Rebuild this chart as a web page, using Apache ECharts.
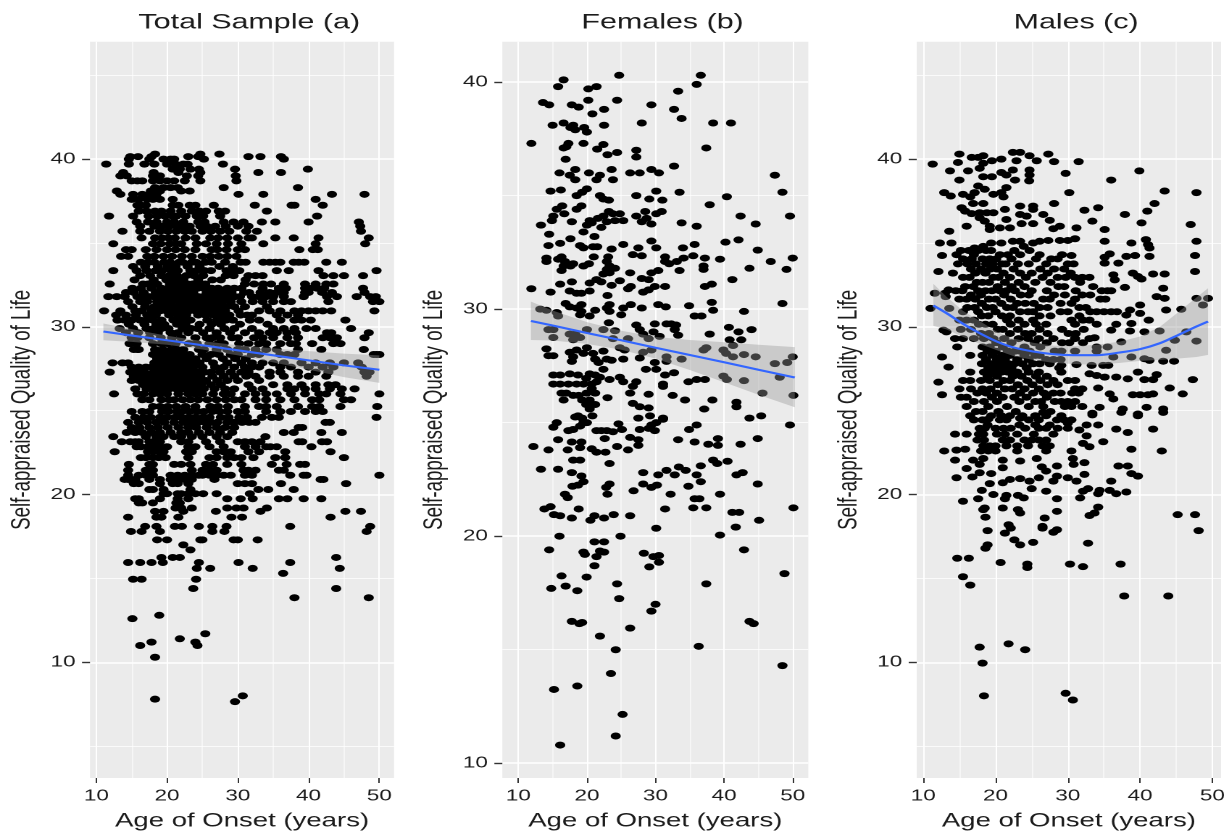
<!DOCTYPE html>
<html><head><meta charset="utf-8">
<style>html,body{margin:0;padding:0;background:#fff;overflow:hidden;width:1229px;height:831px}
#c{width:848px;height:831px;transform:scaleX(1.4493);transform-origin:0 0}</style>
<script src="https://cdn.jsdelivr.net/npm/echarts@6/dist/echarts.min.js"></script>
</head><body><div id="c"></div>
<script>
const titles = ['Total Sample (a)','Females (b)','Males (c)'];
const xName = 'Age of Onset (years)';
const yName = 'Self-appraised Quality of Life';
const xTicks = [10,20,30,40,50];
const xMinor = [15,25,35,45];
const yTicksOuter = [10,20,30,40];
const yMinorOuter = [5,15,25,35,45];
const yTicksFemale = [10,20,30,40];
const yMinorFemale = [15,25,35];

// rows: [y, x1, x2, ...]
const totalRows = [
[40.3,18.3,24.7,27.4],[40.15,14.8,15.9,17.8,23,24.4,31.5,33.2,36.1],[40,14.6,17.5,19.5,20.5,21,25.2,36.5],
[39.7,11.4,14.6,16.8,18.2,20,21.2,22.3,27.9,22.9],[39.4,20.8,21.8,23.3,24.5,29.6,39.9],[39.2,13.8,18.1,21.6,24.7,32.9,36.1],
[39,13.4,14.3,18,19,22.8,24.4,29.7],[38.7,15,15.8,16.5,18,19,20,21,22.5,24.7,29.8],[38.3,18.3,19.5,20.5,21.5,28,38.5],
[38.1,12.9,17.7,19,22,23.2],[37.9,13.4,15.2,16.5,17.5,18.5,30.1,33.6,43.3,47.9],[37.6,15,16,17.2,18,19,20.8,41],
[37.25,15.8,16.3,17,20.8,21.6,23.2,24,26.6,32.4,37.6,38,42],[36.9,16,17.1,18.3,19.2,20.5,22,23.5,24.6,25.5,27.3,28.2,34.1],
[36.6,11.8,15.2,17.4,18.6,19.7,20.8,21.3,22.6,24.2,25.1,27.5,41.2],[36.25,15.7,17.3,18.5,20,21,22.3,24.4,25.3,28,29.4,30.8,33.4,35.3,40,47.1],
[36,16.2,18.2,19.2,20.3,21.4,22.1,23.2,24.7,25.6,26.8,28.3,30,31.5,47.3],[35.7,13.7,16.2,17.5,19,20.1,21.3,22.5,23.5,25,26.2,27.5,28.8,31.2,32.7,47.4],
[35.3,16.4,18.3,19.3,20.2,21.1,22.6,24,26.1,27.2,28.5,30,31.5,32,35.3,37.9,41.4,48.5],[34.95,12.4,18,19.1,20.4,21.3,22,24.2,25.5,27,28.6,30.5,33.6,41,48],
[34.6,14.2,15,17,18.5,20,21.2,22.5,24,26.3,27.1,28.4,30,31,38.7,40.6,41.3],[34.2,13.5,14.5,17.2,18.2,19.5,20.7,22.1,23.5,25,26.1,27.3,28.5,29.8],
[33.85,16.3,17.4,18.2,19.6,20.4,21.7,22.2,23.5,24.1,25.4,26.3,28.2,30.4,31.1,33.6,34.5,35.3,36,37.9,38.6,39.4,42.5,44.7],
[33.6,15.2,16.9,18.7,20.1,21.2,22.9,24.6,27.4,29.3],
[33.35,12.4,15.7,17.1,18.4,19.3,20.6,21.5,23.3,24.2,25.3,26.2,28.4,29.1,30.2,35.5,37.2,41.4,49.6],
[33.05,16.2,17.6,19.2,20.3,21.4,22.7,23.8,25.1,28.3,29.4,31.5,32.5,33.5,42.1,43.5,45,47.7],
[32.8,15.4,18.1,19.9,21.1,22.3,24.4,26.4,27.6,31.1],
[32.55,11.9,16.6,17.3,18.6,20.4,21.6,22.9,23.6,24.7,25.4,31,32.3,33.6,34.7,36.5,39.5,41,42.5,43.5],
[32.3,15.1,16.3,17.8,19.2,20.1,21.3,22.2,23.3,24.3,25.2,26.3,27.2,28.5,29.5,30.5,33.5,35.8,36.8,39.5,40.2,41.2,42.2,47.7],
[32.05,14.2,15.3,16.7,18.4,19.6,20.8,21.7,22.8,23.7,25.6,26.8,27.9,29.1,30.9,31.6,33.2,34.5,35.5,36.5,39.5,40,41.9,43.3,47.9],
[31.8,11.7,12.9,14,15.8,16.4,17.5,18.1,19.3,20.3,21.1,22.3,23.2,24.4,25.1,26.2,27.3,28.4,29.6,30.3,32,33,34,35,36.5,39.3,42.6,44,46.8,48.7,49.5],
[31.5,14.5,16.2,17.2,18.6,19.7,20.6,21.8,22.7,23.8,24.8,25.7,26.9,27.8,29,30.5,32.1,33.5,35,36.5,37.5,42.8,49.1,50],
[31.2,15.1,16.9,18.2,19.3,20.4,21.3,22.4,23.3,24.3,25.3,26.3,27.4,28.4,29.5,31,34.1],
[30.95,11.1,13.4,15.5,16.4,17.8,19,19.9,21,22,23.1,24,25,26,27,28.2,30.1,33,34.5,36,38,39,40,41,42,43.2,49.3],
[30.7,12.8,14.2,15.6,17.2,18.4,20.3,21.5,22.7,24.4,25.4,26.6,27.7,28.8,30.4,31.3,32,35.5,37,38.5],
[30.4,13,14,15,16.2,17,18,19.2,20.9,22.1,23.3,25.7,27.1,28.3,29.3,31.7,33,36,38,39,40.3,45.2],
[30.15,14.6,16.8,18.5,19.6,21.4,22.6,24.6,26.3,27.6,30.3,34.2],
[29.9,13.3,15.2,17.1,18.1,19.2,20.2,22.2,23.4,24.3,26,28.1,29.5,32,35,36.5,38,39.7,41,46],
[29.65,14.2,15.9,17.6,18.7,20.5,21.5,23,25.1,27,28.9,31,33,34.5,35.5,37,38.2,42.6,43.2,48.5],
[29.35,15,15.8,17.5,19.1,20.7,22,24,25.6,26.4,27.5,29.2,30,32.3,33.5,35,37,38.5,42,43,44,47.9],
[29,14.7,15.7,18,19.2,20.1,21.2,23.1,24.2,26,27.2,28,30.2,31.5,33,34,36,37.5,38.2,40.5,43.5,44.5],
[28.65,15.3,15.8,16,18.3,19.4,20.6,21.4,22.3,24.5,25.2,27,28.5,30,31,32.5,34,35.5,38.5,41.8,47.8],
[28.35,18,19.1,20,21,22.1,23.2,25,26.2,27.3,29,30,32,33,36,37,38,49.2,50,49.6],
[28.1,18.6,19.7,20.6,21.7,22.8,24,25.6,27.9,29.6,31.1],
[27.85,12.3,13.7,14.5,18.2,19,20.2,21.2,22.2,23.4,24.6,26.5,28.5,30.5,32,33.5,35,36.5,39,41,43,45,47],
[27.6,15,16,17,17.8,18.8,19.6,20.7,21.6,22.6,23.7,25,26.8,28,29.5,31,32,33,36,37.5,40,42,43.5,47.5],
[27.3,11.9,14.8,15.8,16.8,18.1,19.2,20.1,21.1,22.1,23.1,24.2,25.3,26.2,27.5,29,30.5,31.5,34.5,36,38.5,41,42.8,47.9,48.6],
[27.05,15.3,16.3,17.4,18.6,19.6,20.6,21.6,22.6,23.6,24.7,26.4,28,29.5,31.2,32.5,34.5,36.5,38.5,40,42.5,48.2],
[26.8,15,16,17,18,19,20.1,21.2,22.1,23.1,24.2,25.5,27.1,28.5,30,33],
[26.55,16.6,17.6,18.7,19.7,20.8,21.7,22.7,23.7,24.8,26.2,27.6,31.5,35,37,39,41,42.8,43.8],
[26.3,15.5,17.1,18.2,19.2,20.3,21.3,22.3,23.4,24.3,25.2,26.7,28.2,29.5,32,33.5,37,38,39.5,41,43,44.7,46.5],
[26,12.5,15.8,16.7,18,19,20,21.6,23,24,25,26.5,28,29,31,32.5,34,35.5,37.5,39.5,41.5,42.5,44.5,50],
[25.65,16.5,17.5,19.2,20.3,21,22.2,23.3,24.4,25.7,27,28.3,29.5,30.5,32.5,34,36,38,40.5,41.5,45,46],
[25.25,18,19,20.1,21.3,22.6,24,26.1,27.2,28.6,31,33,34,35.5,38.5,40.5,41.5,44.5,49.7],
[24.95,15,16.5,17.5,19.3,20.2,21.4,22.1,23.2,24.3,25.2,26.4,27.4,28.5,30,31,34,36,37.5,39.5,41,42],
[24.6,15.5,16.7,17.7,19,20,21.1,22,23,24,25.1,26,27.6,28.7,30.2,31.3,33.4,34.8,35.8,49.6],
[24.3,14.5,16,17.2,18.5,19.6,21,22.3,23.4,24.4,25.4,26.2,27.1,28.5,29.5,30.6,31.6,32.5,42.4,43],
[24,15,16.1,17.5,18.7,20.1,21.6,23,24.1,25.6,27,28.2,29.5,39.1,38.6],[23.7,14.3,15.5,16.5,17.8,19,20.5,22,23,24.5,26,27.5,29.2,36.5,37.9,41.8,44.7],
[23.45,12.4,17,18.5,19.5,21,22,23.5,25,27,28.5,33.9],[23.15,13.6,14.8,15.5,16,17.5,18,19,22,23,25.5,27.5,30,31,32,33.2,38.6,39.1,41.9,42.6],
[22.85,15.7,16.3,17.3,18,19,20,23,24,26,28,31,32.5,34,34.6,35.5,40.4],[22.55,12.6,17.3,18,19,19.5,22.7,23.5,27,28,29,31.5,33,36.7,43.1],
[22.2,16.3,17,18,18.8,19.8,23,26,27,28.5,29.5,30.5,32.2,35.3,36.7,45],[21.8,14.6,17.5,18,21,22,23.3,25.5,26.5,28.5,30.5,34.8,36.9,38.8,39.5],
[21.45,14.5,17,18,23.5,25,26,27,30.8,31.5,32.5,35.8,36.5],[21.15,14.5,16,17,18,20.5,21.5,22.5,23.5,24.5,25,26,27,28,29,31,32,37.4,39.3,39.7,50],
[20.9,14,14.5,15,15.5,17.5,19,20.5,21.5,22.5,23.5,26.7,41.7,42.1],[20.65,15.3,16,19,20.8,21.5,23,30,31,32,36.1,45.3],
[20.3,17.5,18,19.5,23.3,32.9,34.3,37.9],[20.05,19.5,20,21.5,22,23,24,25.1,27,31.7],[19.75,15.5,16,19,21.5,23,28.5,30.4,32.1,35.8,37,39.3,41.8],
[19.5,16,16.5,18,21.3,21.8],[19.2,21.2,22,23.5,28.5,29.8,30.8,34.1],[19,18.3,19.5,22.3,26.9,33.2,45.2,47.4],[18.65,14.5,18.5,19.2,21.6,29.1,30.6,43.1],
[18.1,16.9,21.1,22.1,24.5,28.4,37.4,18.5,26.4,48.7],[17.8,14.9,16.4,19,26.4,28.1,48.2],[17.3,18.6,20,25,24.7,29.4,30,32.8],[17,22.3],[16.7,23.3],
[16.25,19.2,20.8,21.8,43.9],[15.95,14.5,16.2,17.8,19.4,24.5,30.1,37.4],[15.6,24.2,26.1,32.1,44.4],[15.3,36.4],[14.95,15.2,16.4,24.1],[14.4,23.7,43.9],[13.85,38,48.5],
[12.8,18.9],[12.6,15.1],[11.7,25.4],[11.4,21.8],[11.2,17.8,24],[11,16.2,24.3],[10.3,18.3],[8,30.7],[7.8,18.3],[7.65,29.6]
];

const femalePoints = [
[16.6,40.1],[15.8,39.8],[20.2,39.7],[21.4,39.8],[24.7,40.3],[36,39.9],[36.6,40.3],[33.3,39.6],[13.6,39.1],[14.5,39],[17.8,39],[18.8,38.9],[20.2,39.2],[22.5,38.8],[24.4,39.2],[29.4,39],[32.7,38.8],[20.8,38.6],[33.8,38.4],
[15,38.1],[16.6,38.2],[18,38.1],[17.6,38],[18.3,37.9],[19.6,38],[20,37.8],[22.5,38.1],[28,38.2],[38.4,38.2],[41,38.2],[11.9,37.3],[17.3,37.3],[16.6,37.1],[17,37.15],[19.5,37.3],[21.5,37.05],[22.4,37.25],[24.4,36.9],[23,36.8],[27.2,37],[27.2,36.7],[37.4,37.1],[16.9,36.6],
[16,36],[18.3,36.15],[17.5,35.9],[18.3,35.7],[20.3,36],[21.9,35.9],[21.4,35.7],[23.6,36.15],[23.8,35.7],[26.3,36],[27.7,36],[29.4,36.15],[30.5,36],[32.7,36.3],[47.4,35.9],
[14.7,35.2],[16.2,35.25],[18.5,35],[19.3,35.15],[20,35.3],[21.9,35],[22.4,34.85],[23.2,34.8],[27.2,35],[30.1,35.2],[29.1,34.85],[31,34.8],[33.5,35.15],[48.5,35.15],[40.4,34.95],[37.9,34.6],
[16.4,34.55],[15.6,34.4],[15.1,34.1],[14.9,33.9],[13.3,33.7],[16.7,34.2],[18.5,34.4],[19.2,34.55],[17.8,33.85],[23.2,34.3],[23.8,34.2],[22.4,34.1],[21.6,34],[24.8,34.2],[25.3,33.9],[24.1,33.9],[22.9,33.85],[22.1,33.6],[20.4,33.9],[20,33.7],[19.5,33.4],[20.7,33.8],[27.2,34.1],[28.5,34.3],[28.7,34],[28,33.85],[29.4,33.75],[30.1,34.2],[30.9,34.3],[33.8,33.8],[36,33.65],[42.4,34.1],[44.6,33.75],[49.6,34.1],
[14.5,33.3],[21.1,33.2],[14.4,32.8],[16.1,32.9],[17.6,33.1],[19,32.8],[19.5,32.7],[20.9,32.75],[21.5,32.75],[23.6,32.65],[25.3,32.85],[27.5,32.7],[29.4,33],[30.1,32.7],[34,32.7],[35.7,32.85],[40.2,32.95],[42.1,33.05],[44.9,32.6],[46.8,32.1],[50,32.25],
[14.1,32.25],[14.1,32.1],[16.3,32.3],[15.8,32.2],[16.8,32.1],[18,32],[16.6,31.9],[17.6,31.9],[16.3,31.7],[21,32.3],[20.3,32],[19.5,31.9],[23.1,32.3],[22.9,32.1],[26.7,32.4],[28,32.35],[31.4,32.3],[31.4,32.1],[32,32],[33.1,32.1],[34.1,32.25],[35.5,32.35],[37.2,32.25],[39.4,32.2],[37,31.9],[37,31.75],[33.5,31.7],[43.7,31.8],[49.1,31.75],
[23.3,31.9],[22.9,31.75],[24.1,31.8],[22.4,31.55],[23.3,31.6],[26.3,31.6],[30.4,31.7],[29.4,31.6],[28,31.35],[29,31.3],[22.1,31.2],[21.4,31.3],[20.4,31.15],[24.8,31.25],[23.6,31.05],[17.8,31.2],[16.1,31.1],[11.9,30.9],[14.7,30.75],[17.5,30.8],[18.5,30.7],[19.2,30.7],[20.4,30.8],[26.4,31],[26,30.9],[31.4,31],[29.9,31],[29,30.85],[28.2,30.75],[38.2,31.1],[37.2,31],[41.2,31.3],[23,30.6],
[16.9,30.25],[17.5,30.1],[19.2,30.2],[18.5,30.05],[19.2,29.9],[23.3,30.2],[22.9,30.05],[23.3,29.9],[21.2,29.95],[26.4,30.2],[25.3,30.05],[25,29.75],[28,30.05],[30.4,30.2],[31.5,30.1],[34.9,30.15],[38.2,30.3],[38.4,29.95],[42.9,29.9],[48.5,30.25],[35.7,29.7],[36.7,29.7],[13.2,30],[14.1,29.95],[15.6,29.85],[15.8,29.7],[19,29.75],[20.4,29.7],
[23.2,29.4],[22.4,29.1],[24.1,29.05],[27.2,29.3],[27.7,29.1],[28.2,28.9],[29,28.7],[29.9,29.35],[29.7,29],[31.6,29.35],[32.3,29.35],[33,29.3],[32.8,29.1],[33.3,28.85],[30.6,28.8],[37.9,28.9],[40.7,29.2],[42.1,29],[44,29.1],[40.8,28.65],[42.5,28.65],[41.3,28.4],
[15.1,29.1],[14.4,29.1],[15.1,28.75],[17.5,28.9],[18.3,28.9],[18,28.65],[19,28.75],[20,29.1],[23.8,28.7],[26,28.7],[24.8,28.3],[25.5,28.2],[28.2,28.1],[29.4,28.2],[37,28.2],[37.4,28.3],[39.9,28.2],[40.3,28.05],[41.3,27.9],[42.9,28],[44.6,27.9],[50,27.9],[47.4,27.6],[49.2,27.65],[33.8,27.8],[31.6,27.9],[31.6,27.7],
[14.1,28.25],[14.4,27.95],[15.1,27.95],[17.5,28.1],[18.5,28.2],[18,27.9],[17.8,27.7],[20,28.3],[19.5,28.05],[20.9,28.05],[21.2,27.8],[21.7,27.65],[22.4,28.15],[22.9,27.8],[23.6,27.75],[25.3,27.8],[27.7,27.85],[29.9,27.65],[28.6,27.35],[30.1,27.35],[32.7,27.2],[31.4,27.1],[22.4,27.35],
[15.1,27.1],[16.1,27.1],[17.5,27.15],[18.7,27.1],[20.4,27.15],[21.2,27.1],[21.9,27],[19.9,26.95],[15.1,26.7],[16.1,26.7],[17.3,26.7],[18.5,26.7],[19.5,26.7],[20.7,26.7],[21.4,26.8],[23.3,26.9],[24.8,27],[25.3,26.8],[27.2,26.8],[26.7,26.6],[34.8,26.8],[36,26.9],[37.2,26.9],[39.9,27.05],[40.4,26.9],[42.9,26.85],[48.1,27],[31.1,26.7],[31.1,26.6],
[20.7,26.5],[19.95,26.3],[21.2,26.3],[16.3,26.3],[17,26.3],[18,26.2],[18.8,26.2],[23,26.1],[26.3,26.3],[29,26.25],[32.5,26.2],[45.6,26.3],[50.1,26.2],[16.6,26],[19.3,26],[20.4,26],[34.3,26],[38.3,26],[19.9,25.8],[21.2,25.8],[26.7,25.85],[27.7,25.7],[29,25.65],[41.8,25.9],[41.8,25.7],[37.1,25.6],[20.4,25.6],
[18.7,25.3],[20.8,25.3],[27.5,25.2],[29.2,25.3],[31.1,25.2],[43.7,25.2],[45.4,25.3],[18.3,25.25],[19.3,25.2],[19.5,25],[20,25],[15.6,25],[15.1,24.8],[18,24.7],[17.3,24.65],[19,24.85],[24.6,24.95],[25.1,24.7],[23.8,24.6],[21.4,24.65],[22.1,24.65],[22.9,24.65],[31.1,25.15],[30.1,25],[29.4,24.9],[29,24.75],[27.7,24.7],[29.9,24.65],[36,24.9],[34.9,24.7],[49.6,24.9],
[15.8,24.25],[22.6,24.3],[26.3,24.35],[27.5,24.25],[33.3,24.25],[17.8,24.15],[19.2,24.15],[19,23.9],[35.7,24.15],[37.7,24.05],[39.1,24.3],[39.1,24],[42.4,24.05],[44.9,24.3],[27.5,24],[24.4,23.95],[12.2,23.95],[14.4,23.8],[17.2,23.8],[20.7,23.85],[21.4,23.7],[22.7,23.7],[26,23.8],
[18,23.35],[19,23.35],[23.3,23.2],[38.4,23.35],[39,23.2],[40.5,23.3],[13.3,22.95],[15.8,22.95],[17.8,22.8],[19.2,22.65],[28.2,22.8],[30.4,22.7],[31.6,22.9],[33.4,23.05],[34.4,22.9],[32.8,22.7],[36,22.7],[36.6,23.1],[41.8,22.7],[42.7,22.8],
[19.5,22.4],[18.7,22.25],[17.9,22.2],[23.3,22.3],[22.8,22.15],[28.2,22.3],[29.4,22.15],[30.2,22.25],[34.8,22.2],[36.6,22.4],[44.9,22.3],[23,21.85],[16.8,21.85],[17.2,21.7],[26.8,22],[32.2,21.85],[39.4,21.85],[35.7,21.65],[36.4,21.65],
[13.8,21.2],[14.7,21.3],[18.8,21.2],[31.4,21.2],[35.5,21.25],[37.4,21.25],[50.1,21.25],[41.2,21.05],[42.2,21.05],[15.2,20.95],[16.1,20.9],[17.8,20.8],[21.1,20.9],[20.5,20.7],[22.5,20.8],[23.9,20.95],[26.3,20.9],[30.1,20.35],[41.7,20.4],[45.1,20.7],[16,20],[24.9,20],[39.4,20.05],
[21.1,19.75],[22.5,19.75],[14.5,19.4],[19.5,19.3],[19.7,19.2],[21.9,19.35],[22.5,19.3],[21.4,19.1],[28.3,19.25],[42.9,19.4],[29.7,19.1],[30.5,19.15],[30.5,18.85],[29.1,18.65],[21.1,18.7],[16.3,18.25],[19.96,18.2],[14.8,17.7],[16.9,17.8],[18.6,17.6],[24.4,17.9],[37.4,17.9],[48.8,18.35],
[24.7,17.25],[30,17],[29.4,16.7],[17.8,16.25],[18.9,16.15],[19.3,16.2],[26.3,15.95],[21.9,15.6],[43.7,16.25],[44.3,16.15],[24.2,15],[36.3,15.15],[23.5,13.95],[48.5,14.3],[15.2,13.25],[18.6,13.4],[25.2,12.15],[24.2,11.2],[16.1,10.8]
];

const malePoints = [
[15,40.3],[23.4,40.4],[22.4,40.4],[27.3,40.3],[16.7,40.1],[18.3,40.2],[17.6,40.1],[24.7,40.2],[11.3,39.7],[14.8,39.8],[22.9,39.9],[25.7,39.9],[28.1,39.85],[31.5,39.85],[18.3,39.75],[19.5,39.9],[20.8,40],[13.7,39.3],[16.2,39.3],[17.8,39.45],[20.8,39.2],[22.4,39.35],[24.7,39.35],[29.7,39.15],[39.9,39.3],[15,38.75],[18.3,38.95],[19.5,38.95],[21.5,39.05],[22.7,38.75],[24.7,39.05],[24.65,38.7],[36,38.75],[17.6,38.4],[21.5,38.3],[18.5,38.2],[12.9,38],[13.8,37.8],[15.5,37.9],[17.1,38],[19.7,37.9],[20.8,38],[21.1,37.75],[16.5,37.75],[30.2,38],[43.4,38.1],[47.8,38],[42,37.35],[16.9,37.35],[18.3,37.35],[28.1,37.35],[23.4,37.2],[25.2,37.2],[32.3,36.95],[34.2,37.1],[15.3,37.1],[15.8,36.9],[16.7,36.75],[17.8,36.8],[18.8,36.8],[19.7,36.8],[21.3,37],[23.4,36.7],[24.3,36.6],[25.2,37],[26.6,36.7],[37.9,36.7],[41,36.9],[17.8,36.5],[18.5,36.3],[21.5,36.4],[23.6,36.15],[25.2,36.15],[27.5,36.35],[33.4,36.3],[40.2,36.2],[47,36.1],[16,36],[19.2,36],[20.6,35.9],[22,35.9],[19.2,35.8],[28.9,36],[28,35.85],[31.2,35.9],[35.1,35.8],[13.6,35.7],
[12.3,35],[13.9,35],[19.4,35],[20.8,35],[22.4,35.1],[23.4,35.1],[25.2,35],[26.1,35.1],[27.3,35.15],[28.9,35.15],[30,35.15],[31,35.25],[35.1,35.1],[38.8,35],[40.8,35.2],[47.8,35.1],[41.1,34.9],[41.3,34.7],[18.3,34.8],[17.1,34.7],[23.9,34.8],
[12.6,34.25],[14.6,34.3],[30.5,34.25],[38.1,34.2],[39.3,34.25],[41.3,34.2],[47.6,34.25],[35.1,34.15],[35.8,34.35],[35.1,33.8],[37,33.8],[14.8,33.75],[12.1,33.3],[14.1,33.2],[47.6,33.3],[41.8,33.15],[43.4,33.15],[39,33.2],[39.7,33],[40.2,32.85],[36.3,33.1],[36.5,32.8],[43.2,32.3],[37.9,32.35],[42.3,31.8],[43.4,31.7],[47.8,31.7],[49.4,31.7],[48.7,31.3],[45.7,31.05],[43.6,31],[40,31.3],[38.6,31],[38.1,30.7],[40,30.8],[11,31.1],[11.6,32],[13,32],[13.5,32.2],[13.1,31.8],[13.6,31.1],[41.2,30.4],[38.8,30.2],[36.7,30.15],[36,29.8],[38.6,29.75],[40.6,29.7],[42.7,29.75],[46.4,29.7],[33.7,29.35],[37.4,29.1],[44.8,29.2],[47.8,29.15],[43.6,28.6],[12.8,29.8],[13.2,29.7],[14.4,29.3],[15.5,29.3],[14.7,28.8],[16.5,28.3],[12.6,28.2],[13.5,27.6],[12.1,26.7],[12.6,25.95],
[44.7,27.95],[43.2,27.95],[41.3,28],[40.6,28.1],[38.8,28.2],[36.3,28.2],[39.7,27.3],[42.3,27.15],[40.6,26.85],[41.8,26.85],[47.3,26.85],[38.3,26.9],[36.7,27],[35.1,27],[33,27.2],[34,27.1],[33.3,27.7],[31.2,27.75],[34.9,27.7],[35.6,27.7],[29.1,27.7],[29.1,27.3],[44.1,26.35],[45.9,26],[39,25.95],[40,25.95],[41.1,25.95],[41.8,26],[35.8,26],[36.3,25.7],[34.2,26.35],[43.2,25.1],[40.9,25.2],[39.7,24.8],[37.6,25.1],[34.4,25.2],[33.4,24.85],
[43.2,24.9],[39.7,24.7],[37.4,24.9],[33.4,24.75],[29.1,24.7],[26.6,24.9],[23.4,24.55],[20.8,24.7],[19,24.5],[16.5,24.7],[34.2,24.15],[32.6,24.15],[36.7,23.9],[41.8,23.9],[38.3,23.7],[31.6,23.85],[32.6,23.5],[30,24.25],[34.9,23.15],[32.1,23.05],[33,22.85],[38.8,22.7],[43,22.6],[14.4,23.6],[16,23.6],[12.9,22.6],[14.6,22.65],[15.8,22.7],[14.4,22.05],[16.9,22.05],[18.3,22.15],[17.8,21.8],[16,21.55],[14.6,21],[16.8,21.05],[17.8,21.3],[19.4,21.25],[21,22.05],[21,21.6],[23.4,22],[25.7,22.15],[26.4,21.65],[27,21.4],[28.5,21.7],[30.7,22.15],[30.8,21.8],[32.3,21.9],[37,21.7],[38.3,21.7],[38.8,21.25],[39.7,21.1],[32.3,21.2],[36,20.8],[28,20.8],[28.5,21.1],[30,21],[31.2,20.8],[23.4,20.95],[22,20.9],[21,20.7],[19.2,20.65],[24.7,20.8],[26,21],[25,20.35],[27,20.2],[18.1,20.25],[19.7,20],[21.5,19.95],[21.3,19.75],[23.1,19.95],[23.9,19.8],[17.6,19.75],[15.5,19.6],[28.5,19.75],[31.7,19.8],[32.1,20.2],[32.8,20.35],[34.2,20.05],[34.4,20.25],[35.8,20.25],[36.7,20.05],[38.1,20.15],
[18.5,19.2],[18.3,19.1],[21,19.2],[23.1,19.1],[23.4,18.9],[28.5,19],[34.2,19.25],[33.7,18.9],[33,18.75],[26.8,18.6],[18.6,18.65],[45.2,18.8],[47.6,18.8],[48.1,17.85],[21.8,18.2],[22.1,18],[21.3,17.7],[26.5,18.1],[26.5,18],[28.5,17.9],[28,17.75],[18.9,17.85],[18.9,17],[18.6,16.8],[22.6,17.3],[23.4,17],[25.2,17.15],[32.8,17.1],[14.7,16.2],[16.3,16.2],[20.7,15.95],[24.4,15.85],[24.4,15.65],[30.3,15.85],[32.1,15.7],[37.3,15.85],[15.5,15.1],[16.5,14.6],[37.8,13.95],[43.9,13.95],[17.8,10.9],[18.2,9.95],[21.8,11.1],[24.1,10.75],[18.4,8],[29.7,8.15],[30.7,7.75]
];
// dense part of the male panel, by row: [y, x1, x2, ...]
const maleRows = [
[34.55,15.2,16.3,17.6,18.7,19.4,22.6,24.7],[34.3,17,20.6,21.7,23.4,26.1,29.2],[34.05,15.5,16.7,18.2,19.2,20.1,22.2,25.6,27.7,28.6],
[33.75,16.1,17.3,18.7,19.6,20.9,21.4,23.1,24.6,27,30,30.8],[33.45,16.6,18,19.3,20.2,22.5,26.2,28.1,29.5],[33.2,17.2,18.6,21.1,23.4,25,27.2,30.4],
[32.95,15.5,16.4,19.7,20.4,22,24.2,26.5,28.6,29.7,31,32,33],[32.65,17.4,18.2,19.1,21.3,23.2,25.5,27.6,31.7],[32.4,15.8,16.9,20.3,22.2,24,28.7,29.5,33.5],
[32.15,14.5,15.4,17.6,18.6,19.5,20.6,21.5,22.7,25,27.1,31.1,34.7,35.5,36],[31.9,16.6,18,21.2,23.5,24.6,28.1,29.6,32,33.1],
[31.65,15,16,17.2,19.1,20,22.1,26.6,27.5,31,34.5,35.2],[31.4,18.1,20.8,23,24.1,25.3,29,30.5],[31.15,16.1,17.1,18.8,19.6,21.6,22.4,26.1,27.2,31.6,32.5],
[30.9,15.5,17.6,20,23.4,24.5,25.2,29,30,33.1,34,35,36,36.8],[30.65,18.1,19,20.9,22,26.1,27.6,31.6],[30.4,15,16,17,21.6,23.2,25.2,30.5,32.1,33],
[30.15,17.7,18.6,19.6,22.1,24,25.6,27,31,34],[29.85,15.2,16.6,20.3,21,23.1,26.1,29.2,32.2],[29.6,18,19.1,22,24.1,25,27.2,30.1,31.1],
[29.3,17,18.4,19.7,21.2,23.2,24.5,26,28,31,33],[29.05,20.1,22.2,25.4,27.1,29.2,30.2,32.1],[28.8,18.2,19.2,21,24,26.2,34,35.5],
[28.55,18.9,20,21.7,22.7,23.4,24.7,28.2,29.1,31,34],[28.3,18.2,19.6,20.9,22,24,25.5,26.1],[28.05,18.7,20.2,21.3,23,24.6,27,28,29],
[27.8,18.1,19.4,20.6,21.8,22.6,23.7,25.2,26.1,27.5],[27.55,19,20.1,21.2,22.2,24.3,28.8],[27.3,16.5,18.4,19.7,20.8,21.7,23,24.6,26],
[27.05,18.9,20.2,22.4,23.6,25.6,27.1],[26.8,15.5,16.5,18,19.2,21.1,22,24.4,26.2,28,30,31],[26.55,20.3,23.1,25.1,27.2,28.6],
[26.3,15,16.6,18.2,19.3,21.3,22.3,24,26,31,32],[26.05,17.5,18.7,20.2,23.4,25.2,26.7,28,29,30.6,31.5],[25.8,15.2,16,19.5,21,22.6,24.3,27.1],
[25.55,17,18.4,20.2,23.3,25.5,26.3,28.2,29.1,30,31],[25.25,16,19,21.6,24.6,26.6,29.6,30.5,32],[24.95,17.3,18.2,20.4,22.8,27.6],
[24.7,19.4,22,23.7,25.5,27],[24.45,17,18.2,20.6,21.5,24.6,26,28.5,29.5,30.5],[24.15,18.9,23.3,25.5,27.5],
[23.95,17.8,18.5,20,21.1,22.1,24.1,26,27,28.6,30],[23.6,17.7,18.3,20.2,21.3,23,25.3,28],[23.25,17.5,18.4,21,22,24,25,26,27],
[22.9,18.3,19.2,20,21.5,23,24.5,26.5,27.5],[22.6,18,19,20,23,27,30.5]
];

// smoothed fits: [x, lower, fit, upper]
const totalFit = [[11,29.2,29.72,30.2],[15,29.1,29.48,29.86],[20,28.93,29.2,29.47],[25,28.65,28.9,29.15],[30,28.3,28.6,28.9],[35,27.88,28.3,28.72],[40,27.45,28,28.55],[45,27,27.7,28.4],[50,26.66,27.44,28.3]];
const femaleFit = [[11.85,28.64,29.48,30.33],[15,28.62,29.28,29.94],[20,28.47,28.95,29.43],[25,28.21,28.63,29.05],[30,27.82,28.3,28.78],[35,27.32,27.98,28.64],[40,26.78,27.66,28.54],[45,26.23,27.33,28.43],[50.3,25.68,26.99,28.33]];
const maleFit = [[11.4,30.06,31.27,32.56],[13.2,29.85,30.82,31.8],[15.5,29.4,30.18,30.95],[17.8,28.98,29.62,30.35],[20.2,28.6,29.12,29.7],[22.5,28.25,28.77,29.3],[25.2,28.03,28.53,29.05],[28,27.85,28.37,28.88],[30.8,27.78,28.31,28.85],[34,27.73,28.31,28.93],[37.2,27.85,28.47,29.12],[40,27.97,28.67,29.42],[42.8,28.03,29.03,30.02],[45.5,28.12,29.56,30.95],[47.8,28.2,30.02,31.75],[49.4,28.33,30.32,32.3]];

const fromRows = r => r.flatMap(row => row.slice(1).map(x => [x, row[0]]));
const panels = [
 {title:titles[0], pts:fromRows(totalRows), fit:totalFit, yMin:3.1, yMax:47, xMin:9.11, xMax:52.08, yT:yTicksOuter, yM:yMinorOuter, left:62.1, width:209.8},
 {title:titles[1], pts:femalePoints, fit:femaleFit, yMin:9.35, yMax:41.78, xMin:7.67, xMax:52.27, yT:yTicksFemale, yM:yMinorFemale, left:346.6, width:211.1},
 {title:titles[2], pts:malePoints.concat(fromRows(maleRows)), fit:maleFit, yMin:3.1, yMax:47, xMin:9.09, xMax:51.2, yT:yTicksOuter, yM:yMinorOuter, left:632.5, width:210}
];
const ink='#1c1c1c', font='"Liberation Sans", Arial, sans-serif';
const option={animation:false,backgroundColor:'#fff',title:[],grid:[],xAxis:[],yAxis:[],series:[]};
panels.forEach((p,i)=>{
 option.title.push({text:p.title,left:p.left+p.width/2,top:7,textAlign:'center',textStyle:{fontFamily:font,fontSize:21,fontWeight:'normal',color:ink}});
 option.grid.push({left:p.left,width:p.width,top:41.7,height:736.3,show:true,backgroundColor:'#EBEBEB',borderWidth:0,outerBoundsMode:'none',containLabel:false});
 option.xAxis.push({type:'value',gridIndex:i,min:p.xMin,max:p.xMax,name:xName,nameLocation:'middle',nameGap:34,
  nameTextStyle:{fontFamily:font,fontSize:19,color:ink},axisLine:{show:false},
  axisTick:{show:true,length:5,customValues:xTicks,lineStyle:{color:'#333',width:1}},
  axisLabel:{customValues:xTicks,margin:10,fontFamily:font,fontSize:15.5,color:ink},
  splitLine:{show:true,lineStyle:{color:'#fff',width:1}}});
 option.yAxis.push({type:'value',gridIndex:i,min:p.yMin,max:p.yMax,name:yName,nameLocation:'middle',nameGap:37,
  nameTextStyle:{fontFamily:font,fontSize:18.7,color:ink},axisLine:{show:false},
  axisTick:{show:true,length:5.5,customValues:p.yT,lineStyle:{color:'#333',width:1.4}},
  axisLabel:{customValues:p.yT,margin:10,fontFamily:font,fontSize:15.5,color:ink},
  splitLine:{show:true,lineStyle:{color:'#fff',width:1.5}}});
 option.series.push({type:'line',xAxisIndex:i,yAxisIndex:i,data:[],z:1,silent:true,
  markLine:{z:1,silent:true,symbol:'none',label:{show:false},animation:false,emphasis:{disabled:true},
   data:xMinor.map(v=>({xAxis:v,lineStyle:{color:'#fff',width:0.55,type:'solid'}})).concat(p.yM.map(v=>({yAxis:v,lineStyle:{color:'#fff',width:0.8,type:'solid'}})))}});
 option.series.push({type:'scatter',xAxisIndex:i,yAxisIndex:i,data:p.pts,symbol:'circle',symbolSize:7,itemStyle:{color:'#000',opacity:1},z:2,silent:true});
 option.series.push({type:'custom',xAxisIndex:i,yAxisIndex:i,data:p.fit,z:3,silent:true,
  renderItem:(params,api)=>{ if(params.dataIndex!==0) return;
   const up=p.fit.map(r=>api.coord([r[0],r[3]])), lo=p.fit.map(r=>api.coord([r[0],r[1]])).reverse();
   return {type:'polygon',shape:{points:up.concat(lo)},style:{fill:'rgba(153,153,153,0.4)'}}; },
  encode:{x:0,y:2}});
 option.series.push({type:'line',xAxisIndex:i,yAxisIndex:i,data:p.fit.map(r=>[r[0],r[2]]),showSymbol:false,smooth:i===2?0.3:false,lineStyle:{color:'#3366FF',width:2.1},z:4,silent:true});
});
const chart=echarts.init(document.getElementById('c'),null,{renderer:'canvas',devicePixelRatio:2,width:848,height:831});
chart.setOption(option);
</script></body></html>
